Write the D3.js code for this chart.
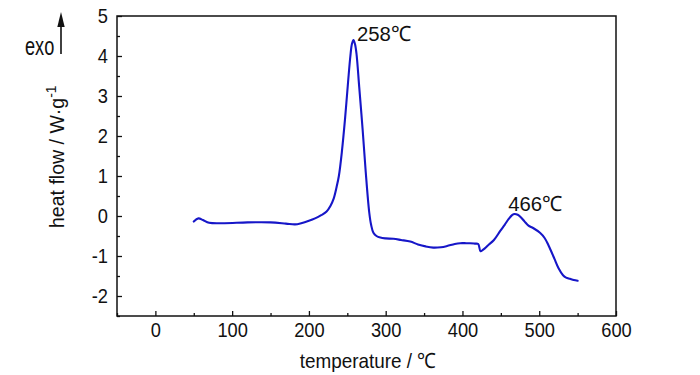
<!DOCTYPE html>
<html>
<head>
<meta charset="utf-8">
<script src="https://cdn.jsdelivr.net/npm/d3@7"></script>
<style>
  html, body { margin: 0; padding: 0; background: #fff; }
  svg { display: block; }
  text { font-family: "Liberation Sans", Arial, sans-serif; fill: #111; }
</style>
</head>
<body>
<svg id="chart" width="700" height="375"></svg>
<script>
// ---- data ----
const temperature = [50, 56, 62, 70, 90, 120, 150, 170, 182, 190, 200, 208, 216, 223, 228, 232, 236, 239, 243, 247, 251, 254, 256, 258, 260, 262, 265.5, 270, 274, 278.5, 281, 284, 288, 293, 300, 310, 320, 332, 342, 352, 362, 372, 380, 390, 397, 405, 410, 416, 420.5, 423.5, 427, 433.5, 441, 449, 455, 460, 465, 468, 472, 476, 481, 486, 492, 501, 507, 512, 516, 520, 525, 531, 535, 540, 545, 550];
const heatFlow = [-0.14, -0.06, -0.1, -0.17, -0.18, -0.16, -0.16, -0.19, -0.21, -0.18, -0.12, -0.06, 0.02, 0.11, 0.25, 0.42, 0.72, 1.0, 1.62, 2.42, 3.35, 4.0, 4.3, 4.4, 4.3, 4.05, 3.23, 2.15, 1.1, 0.1, -0.22, -0.42, -0.5, -0.54, -0.56, -0.57, -0.6, -0.64, -0.71, -0.76, -0.79, -0.78, -0.75, -0.7, -0.68, -0.68, -0.68, -0.69, -0.7, -0.88, -0.84, -0.73, -0.6, -0.38, -0.22, -0.08, 0.03, 0.05, 0.03, -0.03, -0.14, -0.24, -0.3, -0.42, -0.55, -0.73, -0.9, -1.08, -1.3, -1.48, -1.54, -1.57, -1.6, -1.62];
const xTicks = [0, 100, 200, 300, 400, 500, 600];
const xMinorTicks = [-50, 50, 150, 250, 350, 450, 550];
const yTicks = [-2, -1, 0, 1, 2, 3, 4, 5];
const yMinorTicks = [-2.5, -1.5, -0.5, 0.5, 1.5, 2.5, 3.5, 4.5];
const peakTemps = [258, 466];
const peakValues = [4.4, 0.05];
const peakNames = ["258℃", "466℃"];
const xTitle = "temperature / ℃";
const yTitle = "heat flow / W·g";
const yTitleSup = "-1";
const exoLabel = "exo";

// ---- layout / style ----
const FONT = 21;
const SX = 0.87;               // horizontal squeeze to mimic the condensed face
const labelOffsets = [[3.5, 1], [-5, -3]];
const svg = d3.select("#chart");
const margin = { left: 117, top: 16, right: 84, bottom: 59 };
const W = 700 - margin.left - margin.right;
const H = 375 - margin.top - margin.bottom;

const x = d3.scaleLinear().domain([-50, 600]).range([0, W]);
const y = d3.scaleLinear().domain([-2.5, 5]).range([H, 0]);

const g = svg.append("g").attr("transform", `translate(${margin.left},${margin.top})`);

function squeeze(sel, sx) {
  sel.each(function () {
    const t = d3.select(this);
    const x0 = +t.attr("x") || 0;
    t.attr("x", x0 / sx).attr("transform", `scale(${sx},1)`);
  });
}

// minor ticks
g.append("g").attr("transform", `translate(0,${H})`)
  .call(d3.axisBottom(x).tickValues(xMinorTicks).tickSize(-3).tickFormat(""))
  .call(s => s.select(".domain").remove());
g.append("g")
  .call(d3.axisLeft(y).tickValues(yMinorTicks).tickSize(-3).tickFormat(""))
  .call(s => s.select(".domain").remove());

// major ticks
const fmt = d => String(d);
const gx = g.append("g").attr("transform", `translate(0,${H})`)
  .call(d3.axisBottom(x).tickValues(xTicks).tickSize(-5).tickPadding(6).tickFormat(fmt));
const gy = g.append("g")
  .call(d3.axisLeft(y).tickValues(yTicks).tickSize(-5).tickPadding(9).tickFormat(fmt));
[gx, gy].forEach(a => {
  a.select(".domain").remove();
  a.selectAll("text").style("font-size", FONT + "px").attr("fill", "#111")
    .style("font-family", '"Liberation Sans", Arial, sans-serif');
  squeeze(a.selectAll("text"), SX);
});
g.selectAll(".tick line").attr("stroke", "#111").attr("stroke-width", 1.3);

// frame
g.append("rect").attr("x", 0).attr("y", 0).attr("width", W).attr("height", H)
  .attr("fill", "none").attr("stroke", "#111").attr("stroke-width", 1.5);

// curve
const pts = temperature.map((t, i) => [t, heatFlow[i]]);
const line = d3.line().x(d => x(d[0])).y(d => y(d[1])).curve(d3.curveCatmullRom.alpha(0.5));
g.append("path").datum(pts).attr("d", line)
  .attr("fill", "none").attr("stroke", "#1616c8").attr("stroke-width", 2.1)
  .attr("stroke-linejoin", "round").attr("stroke-linecap", "round");

// peak labels
peakTemps.forEach((t, i) => {
  const px = x(t) + labelOffsets[i][0];
  const py = y(peakValues[i]) + labelOffsets[i][1];
  g.append("text")
    .attr("transform", `translate(${px},${py}) scale(0.97,1)`)
    .style("font-size", FONT + "px")
    .text(peakNames[i]);
});

// axis titles
svg.append("text")
  .attr("transform", `translate(368,367.5) scale(${SX + 0.03},1)`)
  .attr("text-anchor", "middle").style("font-size", FONT + "px")
  .text(xTitle);

const yt = svg.append("text")
  .attr("transform", `translate(64,228) rotate(-90) scale(0.93,1)`)
  .attr("text-anchor", "start").style("font-size", FONT + "px");
yt.append("tspan").text(yTitle);
yt.append("tspan").attr("dy", "-0.55em").style("font-size", "15px").text(yTitleSup);

// exo arrow
svg.append("text").attr("transform", "translate(25,55) scale(0.7,1)")
  .style("font-size", "26px").text(exoLabel);
svg.append("line").attr("x1", 61).attr("x2", 61).attr("y1", 54).attr("y2", 24)
  .attr("stroke", "#111").attr("stroke-width", 1.6);
svg.append("path").attr("d", "M61,12 L57.3,27 L64.7,27 Z").attr("fill", "#111");
</script>
</body>
</html>
